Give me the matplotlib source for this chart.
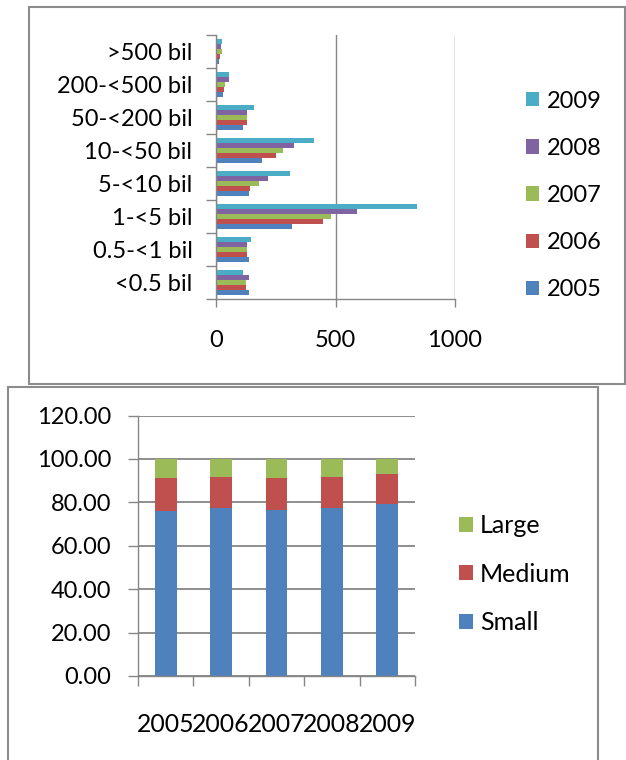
import numpy as np
import matplotlib
matplotlib.use("Agg")
import matplotlib.pyplot as plt
from matplotlib.patches import Rectangle

plt.rcParams['font.family'] = ['Lato', 'DejaVu Sans']

# loan size classes, bottom to top
classes = ['<0.5 bil', '0.5-<1 bil', '1-<5 bil', '5-<10 bil',
           '10-<50 bil', '50-<200 bil', '200-<500 bil', '>500 bil']
years = ['2005', '2006', '2007', '2008', '2009']
v2005 = [136, 136, 318, 136, 194, 115, 28, 12]
v2006 = [125, 130, 446, 142, 249, 130, 35, 17]
v2007 = [125, 130, 483, 179, 279, 130, 39, 24]
v2008 = [136, 130, 589, 217, 328, 130, 55, 22]
v2009 = [115, 146, 841, 311, 408, 161, 55, 25]
year_colors = ['#4F81BD', '#C0504D', '#9BBB59', '#8064A2', '#4BACC6']

# share by size (percent)
small = [76.2, 77.2, 76.6, 77.2, 79.1]
medium = [15.1, 14.7, 14.7, 14.7, 14.0]
large = [8.7, 8.1, 8.7, 8.1, 6.9]

grey = '#868686'
W, H = 626, 760
fig = plt.figure(figsize=(W / 100, H / 100), dpi=100)

# outer boxes of the two charts
fig.patches.append(Rectangle((28.5 / W, 1 - 384 / H), (625 - 28.5) / W, (384 - 6.5) / H,
                             transform=fig.transFigure, fill=False, ec='#8c8c8c', lw=1.5))
fig.patches.append(Rectangle((8 / W, 1 - 770 / H), (598 - 8) / W, (770 - 387) / H,
                             transform=fig.transFigure, fill=False, ec='#8c8c8c', lw=1.5))

# ---- top: counts by size class ----
ax1 = fig.add_axes([216 / W, 1 - 299.3 / H, 239 / W, (299.3 - 35) / H])
y = np.arange(len(classes))
h = 0.15
series = [v2005, v2006, v2007, v2008, v2009]
for i, (vals, yr, c) in enumerate(zip(series, years, year_colors)):
    ax1.barh(y - 0.3 + i * h, vals, height=h, color=c, label=yr, zorder=2)
ax1.set_xlim(0, 1000)
ax1.set_ylim(-0.5, len(classes) - 0.5)
ax1.set_xticks([0, 500, 1000])
ax1.set_yticks(np.arange(len(classes) + 1) - 0.5)
ax1.set_yticklabels([])
ax1.set_yticks(y, minor=True)
ax1.set_yticklabels(classes, minor=True, fontsize=17)
ax1.tick_params(axis='y', which='major', length=7, color=grey, width=1)
ax1.tick_params(axis='y', which='minor', length=0, pad=17)
ax1.tick_params(axis='x', length=6, color=grey, width=1, pad=16, labelsize=17)
ax1.xaxis.grid(True, color=grey, lw=1)
ax1.set_axisbelow(True)
for s in ['top', 'right']:
    ax1.spines[s].set_visible(False)
for s in ['left', 'bottom']:
    ax1.spines[s].set_color(grey)
    ax1.spines[s].set_linewidth(1)
hd, lb = ax1.get_legend_handles_labels()
fig.legend(hd[::-1], lb[::-1], loc='center left', bbox_to_anchor=(526 / W, 1 - 195.5 / H),
           frameon=False, fontsize=17, handlelength=0.56, handleheight=0.56,
           handletextpad=0.33, labelspacing=1.11, borderpad=0, borderaxespad=0)

# ---- bottom: stacked share ----
ax2 = fig.add_axes([138 / W, 1 - 676 / H, 277 / W, (676 - 415.5) / H])
x = np.arange(len(years))
bw = 0.39
ax2.bar(x, small, bw, color='#4F81BD', label='Small', zorder=2)
ax2.bar(x, medium, bw, bottom=small, color='#C0504D', label='Medium', zorder=2)
ax2.bar(x, large, bw, bottom=np.add(small, medium), color='#9BBB59', label='Large', zorder=2)
ax2.set_xlim(-0.5, len(years) - 0.5)
ax2.set_ylim(0, 120)
ax2.set_yticks(np.arange(0, 121, 20))
ax2.set_yticklabels(['%.2f' % v for v in np.arange(0, 121, 20)], fontsize=17)
ax2.set_xticks(np.arange(len(years) + 1) - 0.5)
ax2.set_xticklabels([])
ax2.set_xticks(x, minor=True)
ax2.set_xticklabels(years, minor=True, fontsize=17.8)
ax2.tick_params(axis='x', which='major', length=7, color=grey, width=1)
ax2.tick_params(axis='x', which='minor', length=0, pad=27)
ax2.tick_params(axis='y', length=7, color=grey, width=1, pad=12)
ax2.yaxis.grid(True, color=grey, lw=1.3)
ax2.set_axisbelow(True)
for s in ['top', 'right']:
    ax2.spines[s].set_visible(False)
for s in ['left', 'bottom']:
    ax2.spines[s].set_color(grey)
    ax2.spines[s].set_linewidth(1)
hd, lb = ax2.get_legend_handles_labels()
fig.legend(hd[::-1], lb[::-1], loc='center left', bbox_to_anchor=(459 / W, 1 - 574 / H),
           frameon=False, fontsize=18, handlelength=0.55, handleheight=0.55,
           handletextpad=0.3, labelspacing=1.02, borderpad=0, borderaxespad=0)

fig.savefig('out.png', dpi=100)
